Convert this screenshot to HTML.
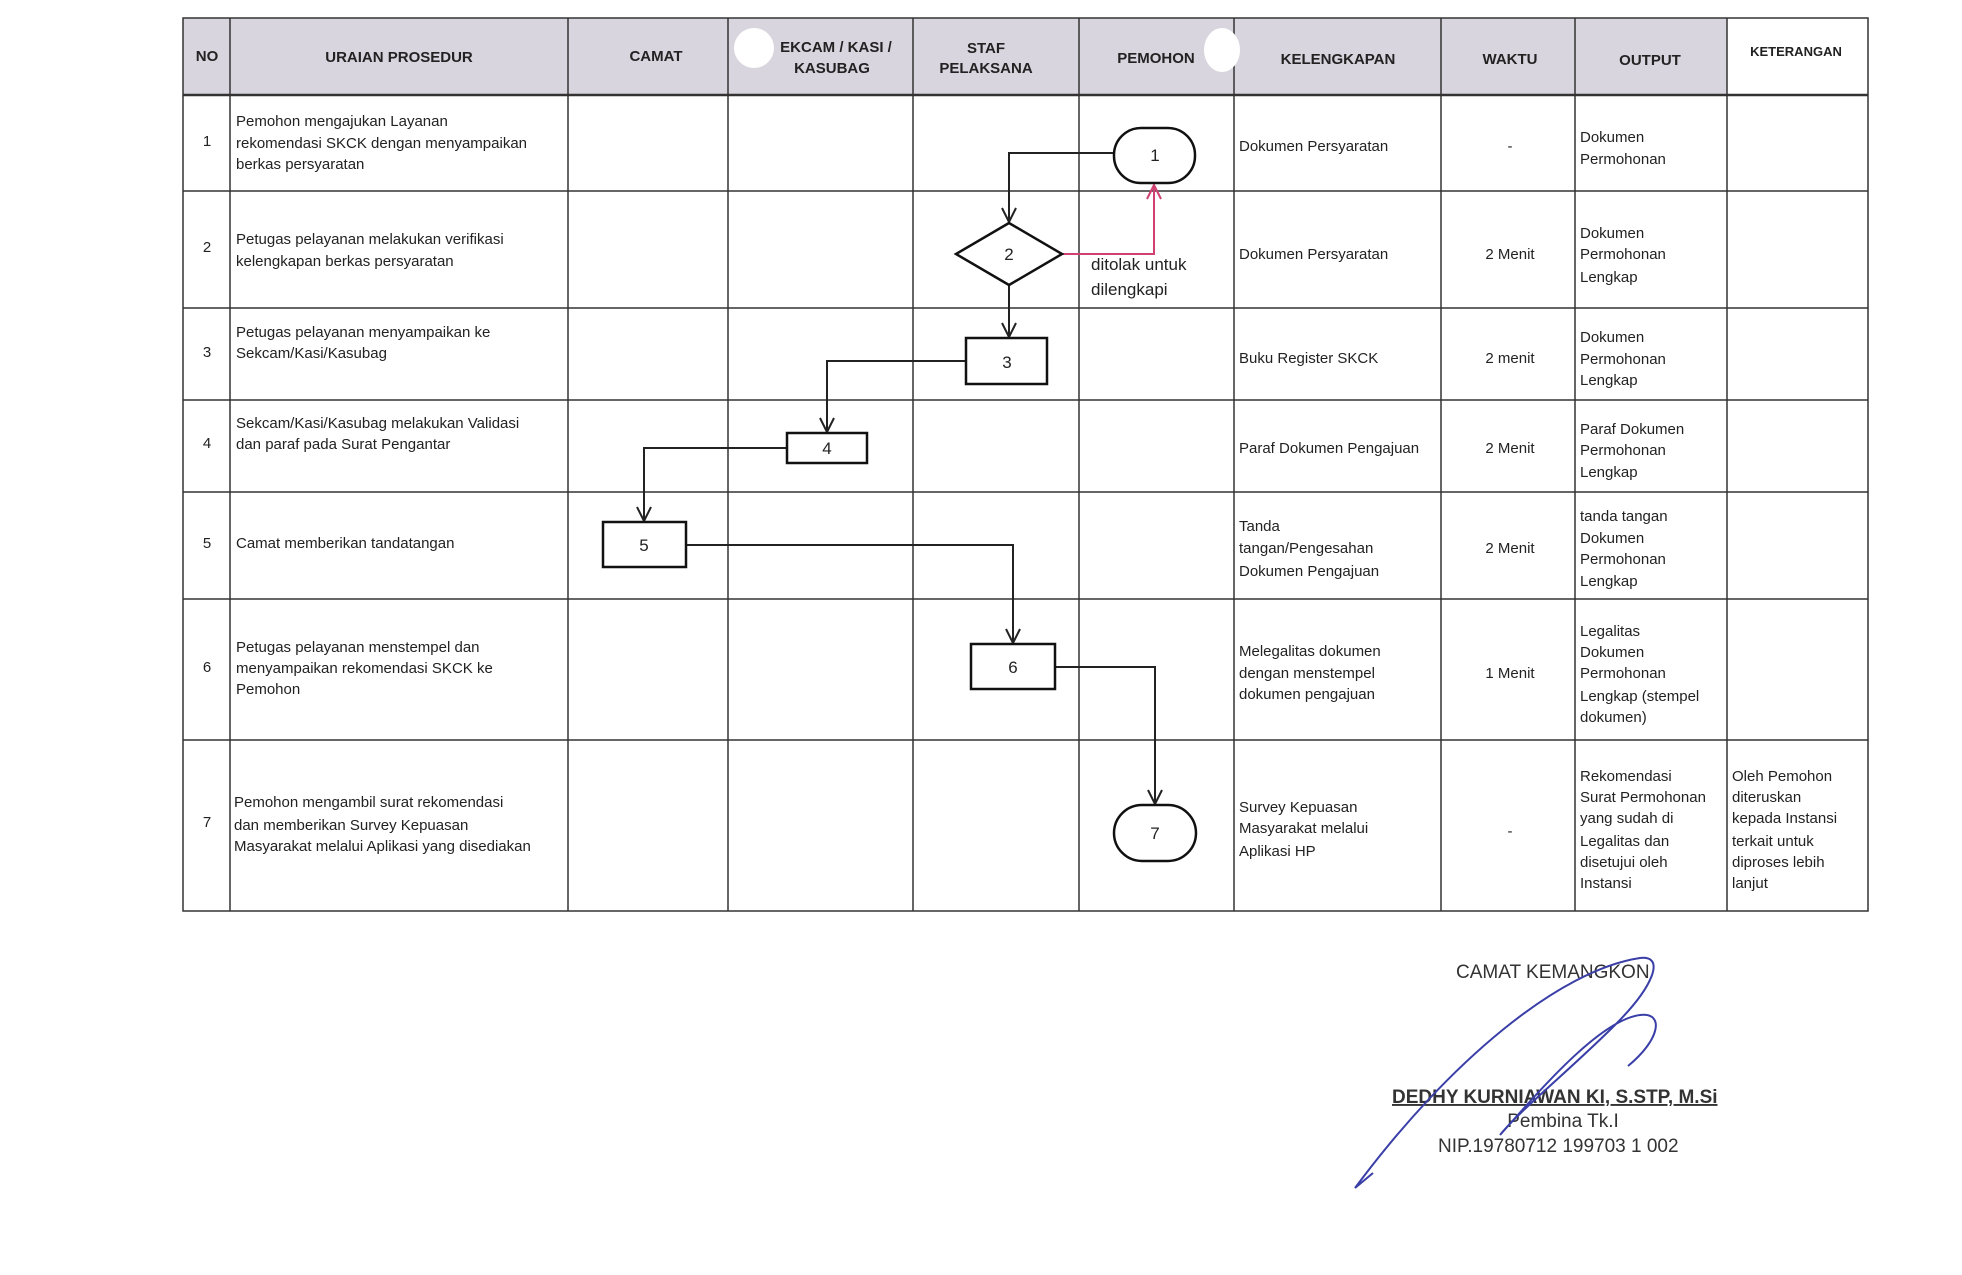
<!DOCTYPE html>
<html><head><meta charset="utf-8"><style>
html,body{margin:0;padding:0;background:#fff;}
svg{display:block;font-family:"Liberation Sans",sans-serif;}
.h{font-weight:bold;font-size:15px;fill:#222;text-anchor:middle;}
.t{font-size:15px;fill:#222;}
.c{text-anchor:middle;}
</style></head><body>
<svg width="1962" height="1275" viewBox="0 0 1962 1275" xmlns="http://www.w3.org/2000/svg">
<rect x="183" y="18" width="1544" height="77" fill="#d9d5de"/>
<g stroke="#333" stroke-width="1.5" fill="none">
<rect x="183" y="18" width="1685" height="893"/>
<line x1="230" y1="18" x2="230" y2="911"/><line x1="568" y1="18" x2="568" y2="911"/><line x1="728" y1="18" x2="728" y2="911"/><line x1="913" y1="18" x2="913" y2="911"/><line x1="1079" y1="18" x2="1079" y2="911"/><line x1="1234" y1="18" x2="1234" y2="911"/><line x1="1441" y1="18" x2="1441" y2="911"/><line x1="1575" y1="18" x2="1575" y2="911"/><line x1="1727" y1="18" x2="1727" y2="911"/>
<line x1="183" y1="95" x2="1868" y2="95" stroke-width="2.5"/><line x1="183" y1="191" x2="1868" y2="191"/><line x1="183" y1="308" x2="1868" y2="308"/><line x1="183" y1="400" x2="1868" y2="400"/><line x1="183" y1="492" x2="1868" y2="492"/><line x1="183" y1="599" x2="1868" y2="599"/><line x1="183" y1="740" x2="1868" y2="740"/>
</g>
<circle cx="754" cy="48" r="20" fill="#fff"/><ellipse cx="1222" cy="50" rx="18" ry="22" fill="#fff"/>
<text class="h" x="207" y="61">NO</text>
<text class="h" x="399" y="62">URAIAN PROSEDUR</text>
<text class="h" x="656" y="61">CAMAT</text>
<text class="h" x="836" y="52">EKCAM / KASI /</text><text class="h" x="832" y="73">KASUBAG</text>
<text class="h" x="986" y="53">STAF</text><text class="h" x="986" y="73">PELAKSANA</text>
<text class="h" x="1156" y="63">PEMOHON</text>
<text class="h" x="1338" y="64">KELENGKAPAN</text>
<text class="h" x="1510" y="64">WAKTU</text>
<text class="h" x="1650" y="65">OUTPUT</text>
<text class="h" x="1796" y="56" style="font-size:13px">KETERANGAN</text>
<g class="t">
<text x="207" y="146" class="c">1</text>
<text x="236" y="126">Pemohon mengajukan Layanan</text><text x="236" y="148">rekomendasi SKCK dengan menyampaikan</text><text x="236" y="169">berkas persyaratan</text>
<text x="1239" y="151">Dokumen Persyaratan</text><text x="1510" y="151" class="c">-</text>
<text x="1580" y="142">Dokumen</text><text x="1580" y="164">Permohonan</text>

<text x="207" y="252" class="c">2</text>
<text x="236" y="244">Petugas pelayanan melakukan verifikasi</text><text x="236" y="266">kelengkapan berkas persyaratan</text>
<text x="1239" y="259">Dokumen Persyaratan</text><text x="1510" y="259" class="c">2 Menit</text>
<text x="1580" y="238">Dokumen</text><text x="1580" y="259">Permohonan</text><text x="1580" y="282">Lengkap</text>
<text x="1091" y="270" style="font-size:17px">ditolak untuk</text><text x="1091" y="295" style="font-size:17px">dilengkapi</text>

<text x="207" y="357" class="c">3</text>
<text x="236" y="337">Petugas pelayanan menyampaikan ke</text><text x="236" y="358">Sekcam/Kasi/Kasubag</text>
<text x="1239" y="363">Buku Register SKCK</text><text x="1510" y="363" class="c">2 menit</text>
<text x="1580" y="342">Dokumen</text><text x="1580" y="364">Permohonan</text><text x="1580" y="385">Lengkap</text>

<text x="207" y="448" class="c">4</text>
<text x="236" y="428">Sekcam/Kasi/Kasubag melakukan Validasi</text><text x="236" y="449">dan paraf pada Surat Pengantar</text>
<text x="1239" y="453">Paraf Dokumen Pengajuan</text><text x="1510" y="453" class="c">2 Menit</text>
<text x="1580" y="434">Paraf Dokumen</text><text x="1580" y="455">Permohonan</text><text x="1580" y="477">Lengkap</text>

<text x="207" y="548" class="c">5</text>
<text x="236" y="548">Camat memberikan tandatangan</text>
<text x="1239" y="531">Tanda</text><text x="1239" y="553">tangan/Pengesahan</text><text x="1239" y="576">Dokumen Pengajuan</text>
<text x="1510" y="553" class="c">2 Menit</text>
<text x="1580" y="521">tanda tangan</text><text x="1580" y="543">Dokumen</text><text x="1580" y="564">Permohonan</text><text x="1580" y="586">Lengkap</text>

<text x="207" y="672" class="c">6</text>
<text x="236" y="652">Petugas pelayanan menstempel dan</text><text x="236" y="673">menyampaikan rekomendasi SKCK ke</text><text x="236" y="694">Pemohon</text>
<text x="1239" y="656">Melegalitas dokumen</text><text x="1239" y="678">dengan menstempel</text><text x="1239" y="699">dokumen pengajuan</text>
<text x="1510" y="678" class="c">1 Menit</text>
<text x="1580" y="636">Legalitas</text><text x="1580" y="657">Dokumen</text><text x="1580" y="678">Permohonan</text><text x="1580" y="701">Lengkap (stempel</text><text x="1580" y="722">dokumen)</text>

<text x="207" y="827" class="c">7</text>
<text x="234" y="807">Pemohon mengambil surat rekomendasi</text><text x="234" y="830">dan memberikan Survey Kepuasan</text><text x="234" y="851">Masyarakat melalui Aplikasi yang disediakan</text>
<text x="1239" y="812">Survey Kepuasan</text><text x="1239" y="833">Masyarakat melalui</text><text x="1239" y="856">Aplikasi HP</text>
<text x="1510" y="836" class="c">-</text>
<text x="1580" y="781">Rekomendasi</text><text x="1580" y="802">Surat Permohonan</text><text x="1580" y="823">yang sudah di</text><text x="1580" y="846">Legalitas dan</text><text x="1580" y="867">disetujui oleh</text><text x="1580" y="888">Instansi</text>
<text x="1732" y="781">Oleh Pemohon</text><text x="1732" y="802">diteruskan</text><text x="1732" y="823">kepada Instansi</text><text x="1732" y="846">terkait untuk</text><text x="1732" y="867">diproses lebih</text><text x="1732" y="888">lanjut</text>
</g>
<g fill="none" stroke="#222" stroke-width="2">
<path d="M1114,153 H1009 V222"/><path d="M1002,208 L1009,222 L1016,208"/>
<path d="M1009,285 V337"/><path d="M1002,323 L1009,337 L1016,323"/>
<path d="M966,361 H827 V432"/><path d="M820,418 L827,432 L834,418"/>
<path d="M787,448 H644 V521"/><path d="M637,507 L644,521 L651,507"/>
<path d="M686,545 H1013 V643"/><path d="M1006,629 L1013,643 L1020,629"/>
<path d="M1055,667 H1155 V804"/><path d="M1148,790 L1155,804 L1162,790"/>
</g>
<g fill="none" stroke="#d04070" stroke-width="2">
<path d="M1062,254 H1154 V185"/><path d="M1147,199 L1154,185 L1161,199"/>
</g>
<g fill="#fff" stroke="#111" stroke-width="2.5">
<rect x="1114" y="128" width="81" height="55" rx="27"/>
<path d="M1009,223 L1062,254 L1009,285 L956,254 Z"/>
<rect x="966" y="338" width="81" height="46"/>
<rect x="787" y="433" width="80" height="30"/>
<rect x="603" y="522" width="83" height="45"/>
<rect x="971" y="644" width="84" height="45"/>
<rect x="1114" y="805" width="82" height="56" rx="28"/>
</g>
<g style="font-size:17px;fill:#222" text-anchor="middle">
<text x="1155" y="161">1</text><text x="1009" y="260">2</text><text x="1007" y="368">3</text><text x="827" y="454">4</text><text x="644" y="551">5</text><text x="1013" y="673">6</text><text x="1155" y="839">7</text>
</g>
<text x="1456" y="978" style="font-size:19px;fill:#333">CAMAT KEMANGKON</text>
<text x="1392" y="1103" style="font-size:19px;font-weight:bold;fill:#333;text-decoration:underline">DEDHY KURNIAWAN KI, S.STP, M.Si</text>
<text x="1563" y="1127" text-anchor="middle" style="font-size:19px;fill:#333">Pembina Tk.I</text>
<text x="1438" y="1152" style="font-size:19px;fill:#333">NIP.19780712 199703 1 002</text>
<path d="M1373,1173 L1355,1188 C1450,1060 1560,970 1640,958 C1665,955 1655,985 1615,1025 C1570,1070 1520,1110 1500,1135 C1540,1090 1600,1020 1640,1015 C1665,1012 1660,1040 1628,1066" fill="none" stroke="#3a3fa8" stroke-width="2"/>
</svg>
</body></html>
